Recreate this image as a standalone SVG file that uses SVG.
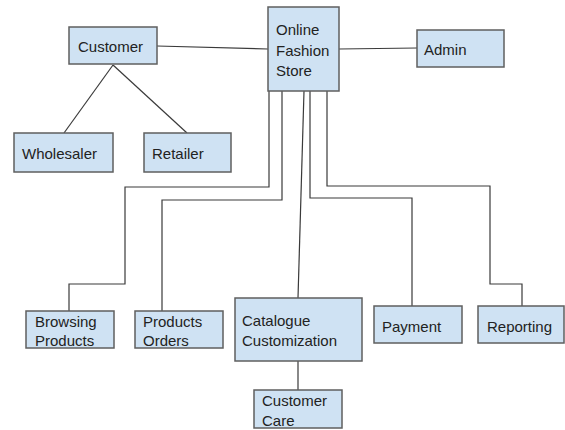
<svg xmlns="http://www.w3.org/2000/svg" width="565" height="430" viewBox="0 0 565 430">
<style>
.box{fill:#cfe2f3;stroke:#5f5f5f;stroke-width:1.5}
.t{font-family:"Liberation Sans",Arial,sans-serif;font-size:15px;fill:#222}
.c{fill:none;stroke:#3a3a3a;stroke-width:1.2}
</style>
<rect width="565" height="430" fill="#fff"/>
<g id="connectors">
<line class="c" x1="157" y1="46" x2="268" y2="49"/>
<line class="c" x1="339" y1="49" x2="417" y2="48"/>
<line class="c" x1="113" y1="65" x2="64" y2="133"/>
<line class="c" x1="113" y1="65" x2="187" y2="133"/>
<polyline class="c" points="269,91 269,187 125,187 125,284 69,284 69,311"/>
<polyline class="c" points="282,91 282,200 162,200 162,311"/>
<line class="c" x1="304" y1="91" x2="298" y2="298"/>
<line class="c" x1="298" y1="361" x2="298" y2="390"/>
<polyline class="c" points="310,91 310,198 412,198 412,306"/>
<polyline class="c" points="327,91 327,186 490,186 490,284 522,284 522,306"/>
</g>
<g id="customer"><rect class="box" x="69" y="27" width="88" height="37"/><text class="t" x="78" y="52">Customer</text></g>
<g id="store"><rect class="box" x="268" y="7" width="71" height="84"/><text class="t" x="276" y="35">Online</text><text class="t" x="276" y="56">Fashion</text><text class="t" x="276" y="76">Store</text></g>
<g id="admin"><rect class="box" x="417" y="30" width="87" height="37"/><text class="t" x="424" y="55">Admin</text></g>
<g id="wholesaler"><rect class="box" x="14" y="133" width="99" height="39"/><text class="t" x="22" y="159">Wholesaler</text></g>
<g id="retailer"><rect class="box" x="144" y="133" width="87" height="39"/><text class="t" x="152" y="159">Retailer</text></g>
<g id="browsing"><rect class="box" x="26" y="311" width="88" height="37"/><text class="t" x="35" y="327">Browsing</text><text class="t" x="35" y="346">Products</text></g>
<g id="orders"><rect class="box" x="135" y="311" width="88" height="37"/><text class="t" x="143" y="327">Products</text><text class="t" x="143" y="346">Orders</text></g>
<g id="catalogue"><rect class="box" x="235" y="298" width="127" height="63"/><text class="t" x="242" y="326">Catalogue</text><text class="t" x="242" y="346">Customization</text></g>
<g id="care"><rect class="box" x="254" y="390" width="88" height="38"/><text class="t" x="262" y="406">Customer</text><text class="t" x="262" y="426">Care</text></g>
<g id="payment"><rect class="box" x="374" y="306" width="88" height="37"/><text class="t" x="382" y="332">Payment</text></g>
<g id="reporting"><rect class="box" x="478" y="306" width="86" height="37"/><text class="t" x="487" y="332">Reporting</text></g>
</svg>
